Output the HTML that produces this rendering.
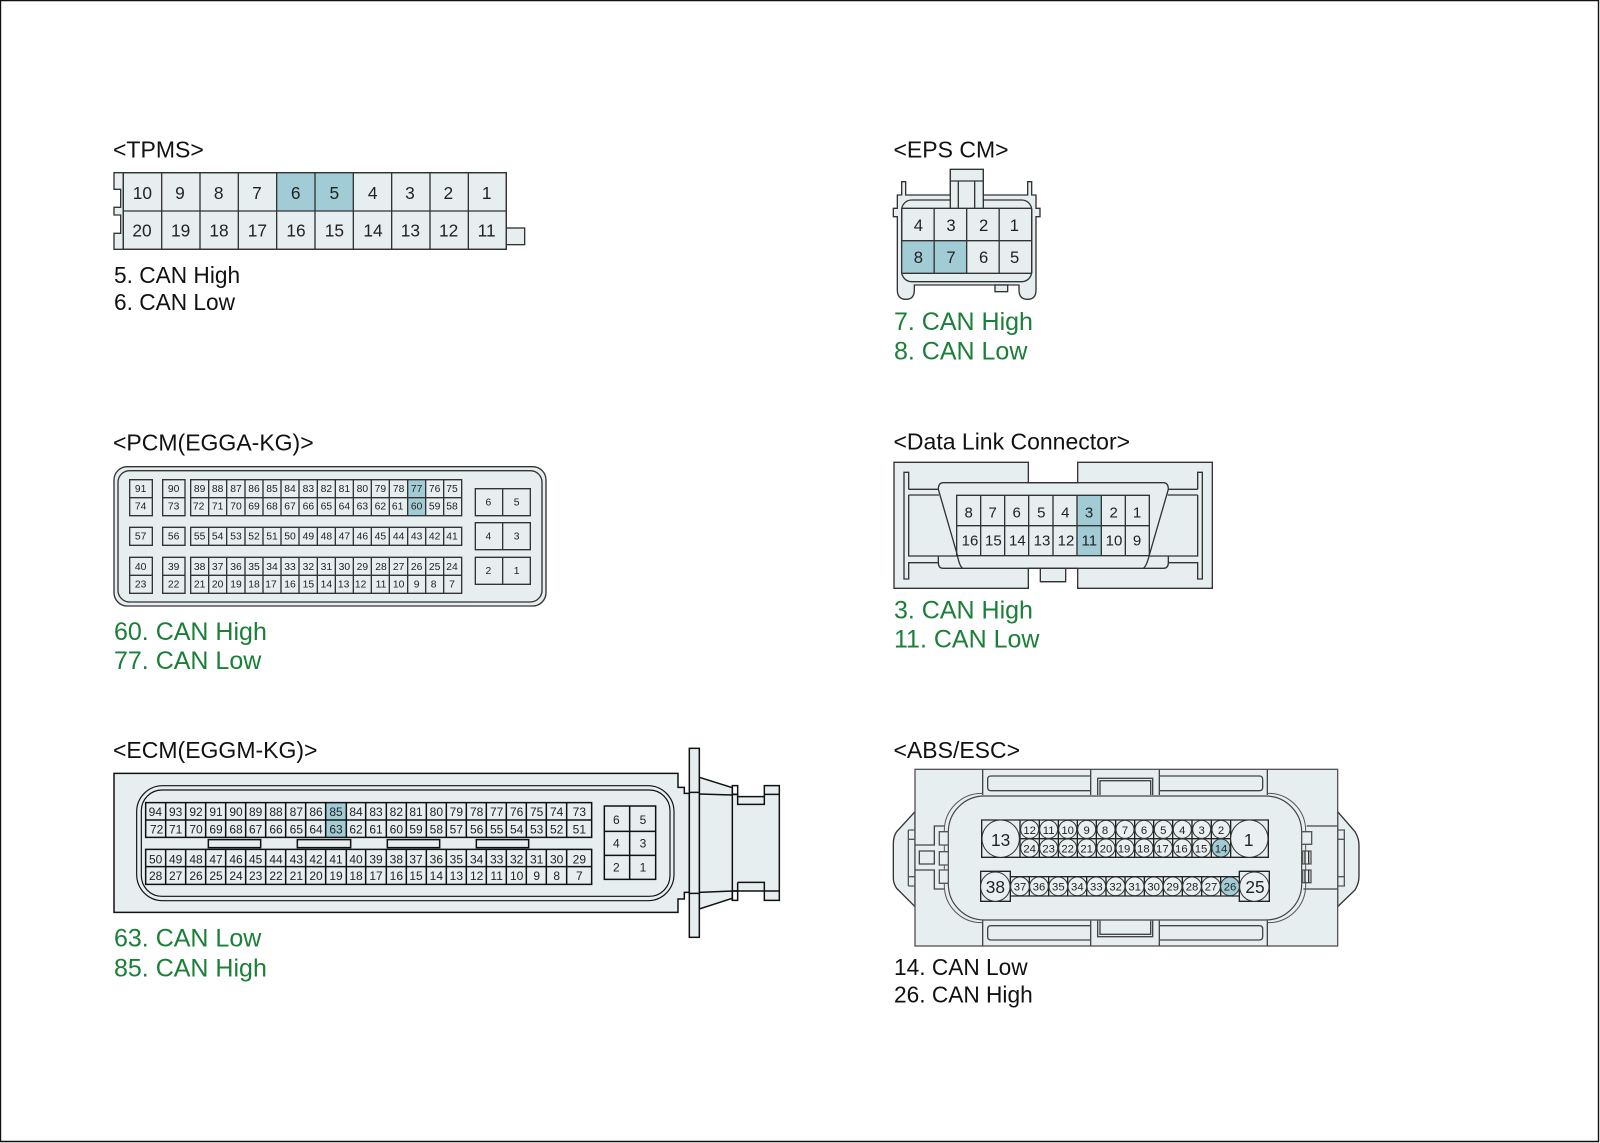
<!DOCTYPE html>
<html><head><meta charset="utf-8"><style>
html,body{margin:0;padding:0;background:#fff}
svg{display:block}
text{font-family:"Liberation Sans",Arial,sans-serif}
.t{font-size:22.7px;fill:#111}
.b{font-size:23px;fill:#111}
.g{font-size:25px;fill:#1a7f37}
.c text{text-anchor:middle;fill:#222}
.s{fill:#e6eeef;stroke:#333;stroke-width:4}
.n{fill:none;stroke:#333;stroke-width:4}
.l{fill:none;stroke:#444;stroke-width:3}
.h{fill:#a1ccd6;stroke:none}
.w{fill:#f1f5f5;stroke:#333;stroke-width:3}
.k .n,.k .s{stroke:#111;stroke-width:4.5}
</style></head><body>
<svg width="1600" height="1143" viewBox="0 0 1600 1143" xmlns="http://www.w3.org/2000/svg">
<rect width="1600" height="1143" fill="#fff"/>
<path d="M.5,1142V.5H1598.5V1141.5H0" fill="none" stroke="#111" stroke-width="1.4"/>

<text class="b" x="113" y="157.400">&lt;TPMS&gt;</text>
<text class="t" x="114" y="283">5. CAN High</text>
<text class="t" x="114" y="310">6. CAN Low</text>
<text class="b" x="893.500" y="157.400">&lt;EPS CM&gt;</text>
<text class="g" x="894" y="330">7. CAN High</text>
<text class="g" x="894" y="359.500">8. CAN Low</text>
<text class="b" x="113" y="450.300">&lt;PCM(EGGA-KG)&gt;</text>
<text class="g" x="114" y="639.800">60. CAN High</text>
<text class="g" x="114" y="669">77. CAN Low</text>
<text class="b" x="893.500" y="449.500">&lt;Data Link Connector&gt;</text>
<text class="g" x="894" y="618.300">3. CAN High</text>
<text class="g" x="894" y="647.500">11. CAN Low</text>
<text class="b" x="113" y="758">&lt;ECM(EGGM-KG)&gt;</text>
<text class="g" x="114" y="946.300">63. CAN Low</text>
<text class="g" x="114" y="976.300">85. CAN High</text>
<text class="b" x="893.500" y="758">&lt;ABS/ESC&gt;</text>
<text class="t" x="894" y="975">14. CAN Low</text>
<text class="t" x="894" y="1002.500">26. CAN High</text>

<!-- TPMS -->
<g class="c" transform="translate(100,130) scale(.33333)" font-size="52">
<rect class="s" x="1219" y="294" width="55" height="50"/>
<path class="s" d="M70,128H42V178H62V232H42V255H62V310H42V358H70Z"/>
<rect class="s" x="70" y="128" width="1149" height="230"/>
<rect class="h" x="530" y="128" width="230" height="115"/>
<path class="n" d="M70,128H1219V358H70ZM70,243H1219M185,128V358M300,128V358M415,128V358M530,128V358M645,128V358M760,128V358M875,128V358M990,128V358M1105,128V358"/>
<text y="207"><tspan x="127">10</tspan><tspan x="240">9</tspan><tspan x="356">8</tspan><tspan x="471">7</tspan><tspan x="587">6</tspan><tspan x="703">5</tspan><tspan x="818">4</tspan><tspan x="930">3</tspan><tspan x="1045">2</tspan><tspan x="1160">1</tspan></text>
<text y="320"><tspan x="126">20</tspan><tspan x="242">19</tspan><tspan x="357">18</tspan><tspan x="472">17</tspan><tspan x="588">16</tspan><tspan x="703">15</tspan><tspan x="819">14</tspan><tspan x="931">13</tspan><tspan x="1046">12</tspan><tspan x="1160">11</tspan></text>
</g>

<!-- EPS -->
<g class="c" transform="translate(880,130) scale(.33333)" font-size="50">
<path class="s" d="M65,195V155H77V195H211V118H310V195H443V155H455V195H468V235H480V260H468V480Q468,508 443,508Q417,508 417,480V465H103V480Q103,508 78,508Q52,508 52,480V260H40V235H52V195Z"/>
<rect class="s" x="345" y="465" width="38" height="20"/>
<rect class="s" x="65" y="210" width="390" height="245" rx="30"/>
<rect x="213" y="120" width="95" height="113" fill="#e6eeef"/>
<path class="n" d="M211,118V235M310,118V235M211,153H310M235,153V235M284,153V235"/>
<rect class="h" x="65" y="332" width="195" height="98"/>
<path class="n" d="M65,235H455M65,332H455M65,430H455M162.500,235V430M260,235V430M357.500,235V430"/>
<path class="n" d="M65,235V430M455,235V430"/>
<text y="303"><tspan x="115">4</tspan><tspan x="213">3</tspan><tspan x="311">2</tspan><tspan x="403">1</tspan></text>
<text y="399"><tspan x="115">8</tspan><tspan x="213">7</tspan><tspan x="311">6</tspan><tspan x="404">5</tspan></text>
</g>

<!-- PCM -->
<g class="c" transform="translate(100,430) scale(.33333)" font-size="31">
<rect class="s" x="42" y="110" width="1296" height="418" rx="40"/>
<rect class="n" x="54" y="122" width="1272" height="394" rx="35"/>
<rect class="h" x="923" y="149" width="54" height="108"/>
<path class="n" d="M89,149H157V257H89ZM89,203H157M188,149H255V257H188ZM188,203H255
M272,149H1085V257H272ZM272,203H1085M326,149V257M380,149V257M435,149V257M489,149V257M543,149V257M597,149V257M652,149V257M706,149V257M760,149V257M814,149V257M868,149V257M923,149V257M977,149V257M1031,149V257
M89,292H157V346H89ZM188,292H255V346H188ZM272,292H1085V346H272ZM326,292V346M380,292V346M435,292V346M489,292V346M543,292V346M597,292V346M652,292V346M706,292V346M760,292V346M814,292V346M868,292V346M923,292V346M977,292V346M1031,292V346
M89,382H157V490H89ZM89,436H157M188,382H255V490H188ZM188,436H255M272,382H1085V490H272ZM272,436H1085M326,382V490M380,382V490M435,382V490M489,382V490M543,382V490M597,382V490M652,382V490M706,382V490M760,382V490M814,382V490M868,382V490M923,382V490M977,382V490M1031,382V490
M1126,176H1291V257H1126ZM1208,176V257M1126,278H1291V359H1126ZM1208,278V359M1126,382H1291V463H1126ZM1208,382V463"/>
<text y="186"><tspan x="122">91</tspan><tspan x="221">90</tspan><tspan x="299">89</tspan><tspan x="353">88</tspan><tspan x="408">87</tspan><tspan x="462">86</tspan><tspan x="516">85</tspan><tspan x="570">84</tspan><tspan x="625">83</tspan><tspan x="679">82</tspan><tspan x="733">81</tspan><tspan x="787">80</tspan><tspan x="841">79</tspan><tspan x="896">78</tspan><tspan x="950">77</tspan><tspan x="1004">76</tspan><tspan x="1056">75</tspan></text>
<text y="239"><tspan x="122">74</tspan><tspan x="221">73</tspan><tspan x="296">72</tspan><tspan x="353">71</tspan><tspan x="408">70</tspan><tspan x="462">69</tspan><tspan x="516">68</tspan><tspan x="570">67</tspan><tspan x="625">66</tspan><tspan x="679">65</tspan><tspan x="733">64</tspan><tspan x="787">63</tspan><tspan x="841">62</tspan><tspan x="893">61</tspan><tspan x="950">60</tspan><tspan x="1004">59</tspan><tspan x="1056">58</tspan></text>
<text y="329"><tspan x="122">57</tspan><tspan x="221">56</tspan><tspan x="299">55</tspan><tspan x="353">54</tspan><tspan x="408">53</tspan><tspan x="462">52</tspan><tspan x="516">51</tspan><tspan x="570">50</tspan><tspan x="625">49</tspan><tspan x="679">48</tspan><tspan x="733">47</tspan><tspan x="787">46</tspan><tspan x="841">45</tspan><tspan x="896">44</tspan><tspan x="950">43</tspan><tspan x="1004">42</tspan><tspan x="1056">41</tspan></text>
<text y="420"><tspan x="122">40</tspan><tspan x="221">39</tspan><tspan x="299">38</tspan><tspan x="353">37</tspan><tspan x="408">36</tspan><tspan x="462">35</tspan><tspan x="516">34</tspan><tspan x="570">33</tspan><tspan x="625">32</tspan><tspan x="679">31</tspan><tspan x="733">30</tspan><tspan x="787">29</tspan><tspan x="843">28</tspan><tspan x="896">27</tspan><tspan x="950">26</tspan><tspan x="1004">25</tspan><tspan x="1056">24</tspan></text>
<text y="473"><tspan x="122">23</tspan><tspan x="221">22</tspan><tspan x="299">21</tspan><tspan x="353">20</tspan><tspan x="408">19</tspan><tspan x="462">18</tspan><tspan x="513">17</tspan><tspan x="570">16</tspan><tspan x="625">15</tspan><tspan x="679">14</tspan><tspan x="731">13</tspan><tspan x="782">12</tspan><tspan x="843">11</tspan><tspan x="896">10</tspan><tspan x="950">9</tspan><tspan x="1001">8</tspan><tspan x="1056">7</tspan></text>
<text y="226"><tspan x="1165">6</tspan><tspan x="1250">5</tspan></text>
<text y="329"><tspan x="1165">4</tspan><tspan x="1250">3</tspan></text>
<text y="432"><tspan x="1165">2</tspan><tspan x="1250">1</tspan></text>
</g>

<!-- DLC -->
<g class="c" transform="translate(880,430) scale(.33333)" font-size="45">
<rect class="s" x="481" y="405" width="76" height="50"/>
<path class="s" d="M42,97H445V158H593V97H997V475H593V415H445V475H42Z"/>
<rect x="447" y="100" width="144" height="56" fill="#fff"/>
<rect x="447" y="417" width="34" height="60" fill="#fff"/><rect x="557" y="417" width="34" height="60" fill="#fff"/>
<rect x="481" y="417" width="76" height="38" fill="#e6eeef"/>
<path class="n" d="M481,415V455H557V415"/>
<path class="n" d="M175,178Q175,158 190,158H850Q865,158 865,178M865,378V398Q865,415 850,415H190Q175,415 175,398V378"/>
<path class="n" d="M175,178L232,375Q238,408 248,415M865,178L808,375Q800,408 790,415"/>
<path class="n" d="M86,178V127H72V447H86V398H175M86,178H175M86,195H177M86,195V378H232"/>
<path class="n" d="M953,178V127H967V447H953V398H865M953,178H865M953,195H863M953,195V378H808"/>
<rect class="h" x="591" y="196" width="73" height="181"/>
<path class="n" d="M230,196H808V377H230ZM230,287H808M302,196V377M374,196V377M446,196V377M519,196V377M591,196V377M664,196V377M736,196V377"/>
<text y="263"><tspan x="266">8</tspan><tspan x="338">7</tspan><tspan x="410">6</tspan><tspan x="484">5</tspan><tspan x="556">4</tspan><tspan x="627">3</tspan><tspan x="701">2</tspan><tspan x="771">1</tspan></text>
<text y="346"><tspan x="270">16</tspan><tspan x="340">15</tspan><tspan x="412">14</tspan><tspan x="486">13</tspan><tspan x="558">12</tspan><tspan x="628">11</tspan><tspan x="702">10</tspan><tspan x="771">9</tspan></text>
</g>

<!-- ECM -->
<g class="c k" transform="translate(100,735) scale(.33333)" font-size="36">
<path class="s" d="M1798,127L1897,158V178H1913V185H1993V152H2038V496H1993V468H1913V442V468H1897V496V490L1798,522Z"/>
<path class="n" d="M1913,185V208H1993V185M1913,442H1993V468M1993,178H2038M1993,468H2038M1897,178V468M1897,152H1913V178H1897ZM1897,468H1913V496H1897ZM1798,177L1897,180M1798,472L1897,468"/>
<path class="s" d="M42,115H1734V157H1753V175H1768V472H1753V492H1734V532H42Z"/>
<rect class="s" x="1768" y="40" width="30" height="567"/>
<path class="n" d="M1768,172H1798M1768,475H1798"/>
<rect class="n" x="110" y="152" width="1612" height="345" rx="78" style="stroke-width:3.500"/>
<rect class="n" x="124" y="165" width="1586" height="319" rx="62" style="stroke-width:3.500"/>
<rect class="h" x="677" y="203" width="62" height="104"/>
<path class="n" d="M137,203H1475V307H137ZM137,255H1475M137,343H1475V448H137ZM137,395H1475
M197,203V307M257,203V307M317,203V307M377,203V307M437,203V307M497,203V307M557,203V307M617,203V307M677,203V307M739,203V307M797,203V307M859,203V307M919,203V307M979,203V307M1039,203V307M1099,203V307M1159,203V307M1219,203V307M1279,203V307M1339,203V307M1400,203V307
M197,343V448M257,343V448M317,343V448M377,343V448M437,343V448M497,343V448M557,343V448M617,343V448M677,343V448M739,343V448M797,343V448M859,343V448M919,343V448M979,343V448M1039,343V448M1099,343V448M1159,343V448M1219,343V448M1279,343V448M1339,343V448M1400,343V448
M325,314H482V338H325ZM592,314H752V338H592ZM862,314H1019V338H862ZM1129,314H1286V338H1129Z
M1513,213H1667V433H1513ZM1589,213V433M1513,289H1667M1513,361H1667"/>
<text y="243"><tspan x="166">94</tspan><tspan x="227">93</tspan><tspan x="288">92</tspan><tspan x="348">91</tspan><tspan x="408">90</tspan><tspan x="467">89</tspan><tspan x="528">88</tspan><tspan x="589">87</tspan><tspan x="648">86</tspan><tspan x="708">85</tspan><tspan x="768">84</tspan><tspan x="828">83</tspan><tspan x="889">82</tspan><tspan x="948">81</tspan><tspan x="1009">80</tspan><tspan x="1069">79</tspan><tspan x="1130">78</tspan><tspan x="1190">77</tspan><tspan x="1250">76</tspan><tspan x="1310">75</tspan><tspan x="1370">74</tspan><tspan x="1438">73</tspan></text>
<text y="295"><tspan x="170">72</tspan><tspan x="227">71</tspan><tspan x="288">70</tspan><tspan x="348">69</tspan><tspan x="408">68</tspan><tspan x="467">67</tspan><tspan x="528">66</tspan><tspan x="589">65</tspan><tspan x="648">64</tspan><tspan x="708">63</tspan><tspan x="768">62</tspan><tspan x="828">61</tspan><tspan x="889">60</tspan><tspan x="948">59</tspan><tspan x="1009">58</tspan><tspan x="1069">57</tspan><tspan x="1130">56</tspan><tspan x="1190">55</tspan><tspan x="1250">54</tspan><tspan x="1310">53</tspan><tspan x="1370">52</tspan><tspan x="1438">51</tspan></text>
<text y="385"><tspan x="167">50</tspan><tspan x="227">49</tspan><tspan x="288">48</tspan><tspan x="348">47</tspan><tspan x="408">46</tspan><tspan x="467">45</tspan><tspan x="528">44</tspan><tspan x="589">43</tspan><tspan x="648">42</tspan><tspan x="708">41</tspan><tspan x="768">40</tspan><tspan x="828">39</tspan><tspan x="889">38</tspan><tspan x="948">37</tspan><tspan x="1009">36</tspan><tspan x="1069">35</tspan><tspan x="1130">34</tspan><tspan x="1190">33</tspan><tspan x="1250">32</tspan><tspan x="1310">31</tspan><tspan x="1370">30</tspan><tspan x="1438">29</tspan></text>
<text y="435"><tspan x="167">28</tspan><tspan x="227">27</tspan><tspan x="288">26</tspan><tspan x="348">25</tspan><tspan x="408">24</tspan><tspan x="467">23</tspan><tspan x="528">22</tspan><tspan x="589">21</tspan><tspan x="648">20</tspan><tspan x="708">19</tspan><tspan x="768">18</tspan><tspan x="828">17</tspan><tspan x="889">16</tspan><tspan x="948">15</tspan><tspan x="1009">14</tspan><tspan x="1069">13</tspan><tspan x="1130">12</tspan><tspan x="1190">11</tspan><tspan x="1250">10</tspan><tspan x="1310">9</tspan><tspan x="1370">8</tspan><tspan x="1438">7</tspan></text>
<text y="267"><tspan x="1549">6</tspan><tspan x="1629">5</tspan></text>
<text y="338"><tspan x="1549">4</tspan><tspan x="1629">3</tspan></text>
<text y="410"><tspan x="1549">2</tspan><tspan x="1629">1</tspan></text>
</g>

<!-- ABS -->
<g class="c" transform="translate(885,760) scale(.33333)" font-size="34">
<path class="s" d="M90,155L35,215Q25,230 25,250V355Q25,370 35,385L90,440Z"/>
<path class="s" d="M1358,155L1410,215Q1422,235 1422,255V350Q1422,370 1410,390L1358,440Z"/>
<rect class="s" x="90" y="28" width="1268" height="530" style="stroke:#555"/>
<path class="n" d="M70,210H90M70,378H90M70,210V378M70,238H90M70,350H90M1358,210H1378V378H1358M1358,238H1378M1358,350H1378" style="stroke:#555"/>
<path class="n" style="stroke:#444" d="M293,28V105M617,28V105M823,28V105M1147,28V105M293,482V558M617,482V558M823,482V558M1147,482V558
M617,48H318Q308,48 308,58V82Q308,92 318,92H617M823,48H1123Q1133,48 1133,58V82Q1133,92 1123,92H823
M617,497H318Q308,497 308,507V530Q308,540 318,540H617M823,497H1123Q1133,497 1133,507V530Q1133,540 1123,540H823
M638,105V55H803V105M645,105V62H797V105M638,482V530H803V482M645,482V523H797V482"/>
<path class="n" style="stroke:#444" d="M90,255H148V198H178M90,330H148V387H178M103,273H148V312H103ZM1265,198H1357M1255,387H1357"/>
<path class="n" style="stroke:#555;stroke-width:3" d="M293,100H290A112,112 0 0 0 178,212V376A112,112 0 0 0 290,488H293M1147,100H1150A112,112 0 0 1 1262,212V376A112,112 0 0 1 1150,488H1147"/>
<rect class="s" x="190" y="108" width="1060" height="372" rx="108" style="stroke:#444;stroke-width:3.500"/>
<path class="n" style="stroke:#555;fill:#e6eeef" d="M190,215H163V255H190ZM190,275H163V315H190ZM190,330H163V370H190ZM1250,215H1280V253H1250ZM1253,273H1278V312H1253ZM1253,330H1278V368H1253Z"/>
<path class="n" style="stroke:#333" d="M1260,273V312M1271,273V312M1260,330V368M1271,330V368"/>
<path class="n" style="stroke:#222" d="M290,180H1150V292H290ZM405,180V292M1037,180V292M463,180V292M520,180V292M577,180V292M634,180V292M692,180V292M749,180V292M806,180V292M863,180V292M921,180V292M979,180V292M405,236H1037
M287,334H376V424H287ZM1063,334H1153V424H1063ZM376,350H1063M376,408H1063M433,350V408M491,350V408M548,350V408M605,350V408M663,350V408M720,350V408M778,350V408M835,350V408M892,350V408M950,350V408M1007,350V408"/>
<g fill="#eaf0f1" stroke="#333" stroke-width="3">
<circle cx="347" cy="236" r="56"/><circle cx="1093" cy="236" r="56"/><circle cx="331" cy="380" r="44"/><circle cx="1108" cy="380" r="44"/>
<circle cx="434" cy="208" r="27"/><circle cx="491" cy="208" r="27"/><circle cx="548" cy="208" r="27"/><circle cx="605" cy="208" r="27"/><circle cx="663" cy="208" r="27"/><circle cx="720" cy="208" r="27"/><circle cx="777" cy="208" r="27"/><circle cx="835" cy="208" r="27"/><circle cx="892" cy="208" r="27"/><circle cx="950" cy="208" r="27"/><circle cx="1008" cy="208" r="27"/>
<circle cx="434" cy="264" r="27"/><circle cx="491" cy="264" r="27"/><circle cx="548" cy="264" r="27"/><circle cx="605" cy="264" r="27"/><circle cx="663" cy="264" r="27"/><circle cx="720" cy="264" r="27"/><circle cx="777" cy="264" r="27"/><circle cx="835" cy="264" r="27"/><circle cx="892" cy="264" r="27"/><circle cx="950" cy="264" r="27"/><circle cx="1008" cy="264" r="27" fill="#a1ccd6"/>
<circle cx="405" cy="379" r="28"/><circle cx="462" cy="379" r="28"/><circle cx="520" cy="379" r="28"/><circle cx="577" cy="379" r="28"/><circle cx="634" cy="379" r="28"/><circle cx="692" cy="379" r="28"/><circle cx="749" cy="379" r="28"/><circle cx="806" cy="379" r="28"/><circle cx="863" cy="379" r="28"/><circle cx="921" cy="379" r="28"/><circle cx="978" cy="379" r="28"/><circle cx="1035" cy="379" r="28" fill="#a1ccd6"/>
</g>
<text y="222"><tspan x="434">12</tspan><tspan x="491">11</tspan><tspan x="548">10</tspan><tspan x="605">9</tspan><tspan x="660">8</tspan><tspan x="720">7</tspan><tspan x="777">6</tspan><tspan x="835">5</tspan><tspan x="892">4</tspan><tspan x="950">3</tspan><tspan x="1008">2</tspan></text>
<text y="278"><tspan x="434">24</tspan><tspan x="491">23</tspan><tspan x="548">22</tspan><tspan x="605">21</tspan><tspan x="663">20</tspan><tspan x="717">19</tspan><tspan x="775">18</tspan><tspan x="832">17</tspan><tspan x="889">16</tspan><tspan x="948">15</tspan><tspan x="1008">14</tspan></text>
<text y="392"><tspan x="405">37</tspan><tspan x="462">36</tspan><tspan x="520">35</tspan><tspan x="577">34</tspan><tspan x="634">33</tspan><tspan x="692">32</tspan><tspan x="749">31</tspan><tspan x="806">30</tspan><tspan x="863">29</tspan><tspan x="921">28</tspan><tspan x="978">27</tspan><tspan x="1035">26</tspan></text>
<text y="258" font-size="52"><tspan x="347">13</tspan><tspan x="1091">1</tspan></text>
<text y="399" font-size="52"><tspan x="331">38</tspan><tspan x="1110">25</tspan></text>
</g>
</svg>
</body></html>
